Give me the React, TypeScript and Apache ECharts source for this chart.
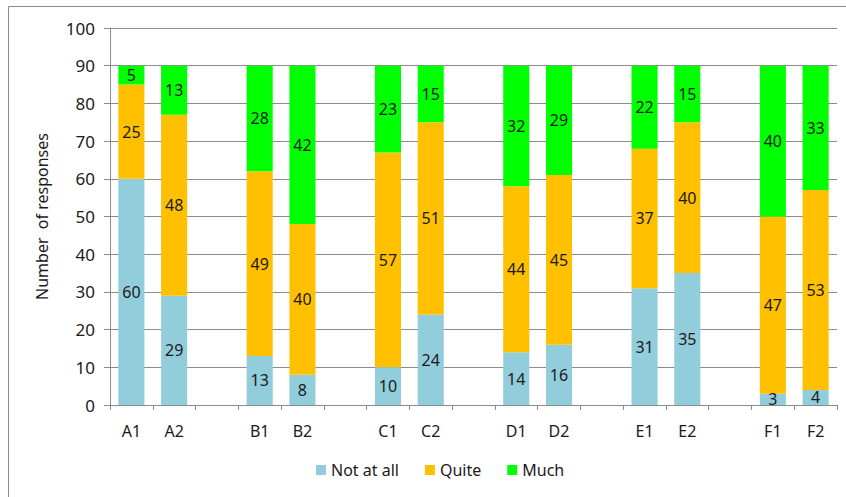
import React, { useEffect, useRef } from "react";
import * as echarts from "echarts";

// Groups of paired bars, separated by an empty slot
const categories = ["A1", "A2", "", "B1", "B2", "", "C1", "C2", "", "D1", "D2", "", "E1", "E2", "", "F1", "F2"];
const notAtAll = [60, 29, null, 13, 8, null, 10, 24, null, 14, 16, null, 31, 35, null, 3, 4];
const quite = [25, 48, null, 49, 40, null, 57, 51, null, 44, 45, null, 37, 40, null, 47, 53];
const much = [5, 13, null, 28, 42, null, 23, 15, null, 32, 29, null, 22, 15, null, 40, 33];
const yTicks = { min: 0, max: 100, interval: 10 };

const FONT = "'Noto Sans', 'Open Sans', sans-serif";
const GRID_GREY = "#8c8c8c";
const TEXT = "#1a1a1a";

export default function App() {
  const ref = useRef<HTMLDivElement>(null);

  useEffect(() => {
    if (!ref.current) return;
    const chart = echarts.init(ref.current, null, { renderer: "svg" });

    const seg = (name: string, data: (number | null)[], color: string) => ({
      name,
      type: "bar",
      stack: "total",
      barWidth: "61%",
      data: data.map((v) => (v === null ? "-" : v)),
      itemStyle: { color },
      label: {
        show: true,
        position: "inside",
        color: TEXT,
        fontFamily: FONT,
        fontSize: 16,
      },
    });

    chart.setOption({
      animation: false,
      backgroundColor: "#ffffff",
      textStyle: { fontFamily: FONT },
      graphic: [
        {
          type: "rect",
          shape: { x: 8.5, y: 6.5, width: 900, height: 600 },
          style: { fill: "none", stroke: GRID_GREY, lineWidth: 1 },
          silent: true,
        },
      ],
      legend: {
        bottom: 14,
        left: 311,
        itemWidth: 10,
        itemHeight: 10,
        itemGap: 26,
        icon: "rect",
        textStyle: { fontFamily: FONT, fontSize: 16, color: TEXT },
        data: ["Not at all", "Quite", "Much"],
      },
      grid: { left: 110, right: 9, top: 28, bottom: 92 },
      xAxis: {
        type: "category",
        data: categories,
        boundaryGap: true,
        axisLine: { lineStyle: { color: GRID_GREY } },
        axisTick: { show: true, interval: 0, length: 5, lineStyle: { color: GRID_GREY } },
        axisLabel: { interval: 0, margin: 18, color: TEXT, fontFamily: FONT, fontSize: 16 },
      },
      yAxis: {
        type: "value",
        min: yTicks.min,
        max: yTicks.max,
        interval: yTicks.interval,
        name: "Number  of responses",
        nameLocation: "middle",
        nameGap: 60,
        nameRotate: 90,
        nameTextStyle: { fontFamily: FONT, fontSize: 16, color: TEXT },
        axisLine: { show: true, lineStyle: { color: GRID_GREY } },
        axisTick: { show: true, length: 6, lineStyle: { color: GRID_GREY } },
        axisLabel: { margin: 15, color: TEXT, fontFamily: FONT, fontSize: 17 },
        splitLine: { show: true, lineStyle: { color: GRID_GREY, width: 1 } },
      },
      series: [
        seg("Not at all", notAtAll, "#92cddc"),
        seg("Quite", quite, "#ffc000"),
        seg("Much", much, "#00ff00"),
      ],
    });

    return () => chart.dispose();
  }, []);

  return <div ref={ref} style={{ width: 846, height: 497, position: "absolute", left: 0, top: 0 }} />;
}
